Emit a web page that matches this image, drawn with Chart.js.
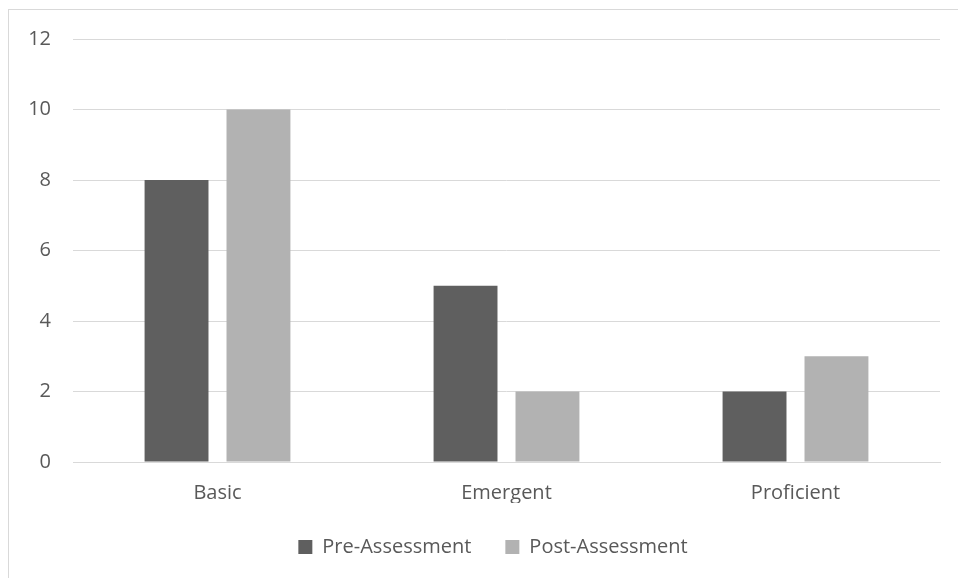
<!DOCTYPE html>
<html>
<head>
<meta charset="utf-8">
<script src="https://cdn.jsdelivr.net/npm/chart.js@4/dist/chart.umd.min.js"></script>
<style>
  html, body { margin: 0; padding: 0; background: #ffffff; }
  #wrap { width: 958px; height: 578px; position: relative; }
</style>
</head>
<body>
<div id="wrap"><canvas id="chart" width="958" height="578"></canvas></div>
<script>
const categories = ['Basic', 'Emergent', 'Proficient'];
const preAssessment = [8, 5, 2];
const postAssessment = [10, 2, 3];
const seriesNames = ['Pre-Assessment', 'Post-Assessment'];

const textColor = '#595959';
const gridColor = '#d9d9d9';
const fontFamily = "'Open Sans', 'Liberation Sans', sans-serif";
const fontSize = 20;

// Light frame around the whole chart object
const framePlugin = {
  id: 'frame',
  beforeDraw(chart) {
    const ctx = chart.ctx;
    ctx.save();
    ctx.fillStyle = '#ffffff';
    ctx.fillRect(0, 0, chart.width, chart.height);
    ctx.strokeStyle = gridColor;
    ctx.lineWidth = 1;
    ctx.strokeRect(8.5, 9.5, chart.width + 20, chart.height + 20);
    ctx.restore();
  }
};

// Center the legend under the full chart frame rather than the canvas
const legendShift = {
  id: 'legendShift',
  afterLayout(chart) {
    const lg = chart.legend;
    if (lg) { lg.left += 23; lg.right += 23; }
  }
};

new Chart(document.getElementById('chart'), {
  type: 'bar',
  data: {
    labels: categories,
    datasets: [
      { label: seriesNames[0], data: preAssessment, backgroundColor: '#5f5f5f' },
      { label: seriesNames[1], data: postAssessment, backgroundColor: '#b2b2b2' }
    ]
  },
  options: {
    responsive: false,
    animation: false,
    devicePixelRatio: 1,
    layout: { padding: { left: 0, right: 18, top: 39, bottom: 11 } },
    datasets: { bar: { categoryPercentage: 0.567, barPercentage: 0.78 } },
    plugins: {
      legend: {
        position: 'bottom',
        labels: {
          color: textColor,
          font: { family: fontFamily, size: fontSize },
          boxWidth: 14,
          boxHeight: 14,
          padding: 34
        }
      },
      tooltip: { enabled: false }
    },
    scales: {
      x: {
        grid: { display: false },
        border: { display: true, color: gridColor, width: 1 },
        ticks: { color: textColor, font: { family: fontFamily, size: fontSize }, padding: 11 },
        afterFit(scale) { scale.height = 41; }
      },
      y: {
        min: 0,
        max: 12,
        ticks: { stepSize: 2, color: textColor, font: { family: fontFamily, size: fontSize }, padding: 22 },
        grid: { color: gridColor, lineWidth: 1, tickLength: 0, drawTicks: false },
        border: { display: false },
        afterFit(scale) { scale.width = 73; }
      }
    }
  },
  plugins: [framePlugin, legendShift]
});
</script>
</body>
</html>
